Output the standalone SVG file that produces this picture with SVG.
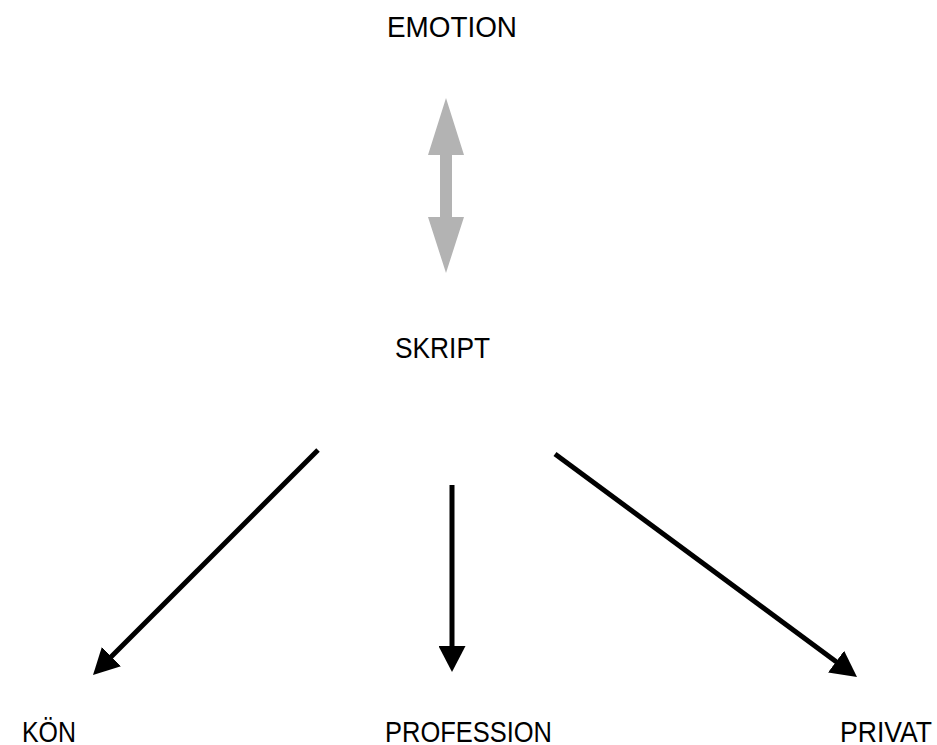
<svg xmlns="http://www.w3.org/2000/svg" width="937" height="745" viewBox="0 0 937 745">
<style>
text{font-family:"Liberation Sans",Arial,Helvetica,sans-serif;font-size:29px;fill:#000}
.conn{stroke:#000;stroke-width:5;fill:none}
</style>
<defs>
<marker id="ah" markerUnits="userSpaceOnUse" markerWidth="26" markerHeight="27" viewBox="0 0 26 27" refX="1" refY="13.5" orient="auto">
<path d="M0,0 L26,13.5 L0,27 z" fill="#000"/>
</marker>
</defs>
<rect width="937" height="745" fill="#fff"/>
<g id="emotion"><text x="387" y="37" textLength="130" lengthAdjust="spacingAndGlyphs">EMOTION</text></g>
<g id="skript"><text x="395" y="358" textLength="95" lengthAdjust="spacingAndGlyphs">SKRIPT</text></g>
<g id="kon"><text x="22" y="742" textLength="54" lengthAdjust="spacingAndGlyphs">KÖN</text></g>
<g id="profession"><text x="385" y="742" textLength="167" lengthAdjust="spacingAndGlyphs">PROFESSION</text></g>
<g id="privat"><text x="840" y="742" textLength="92" lengthAdjust="spacingAndGlyphs">PRIVAT</text></g>
<g id="connectors">
<polygon points="446,98 464,155 452,155 452,217 464,217 446,273 428,217 440,217 440,155 428,155" fill="#b3b3b3"/>
<line class="conn" x1="318" y1="450" x2="110.7" y2="657.3" marker-end="url(#ah)"/>
<line class="conn" x1="452" y1="485" x2="452" y2="647" marker-end="url(#ah)"/>
<line class="conn" x1="555" y1="454" x2="836.9" y2="662.2" marker-end="url(#ah)"/>
</g>
</svg>
